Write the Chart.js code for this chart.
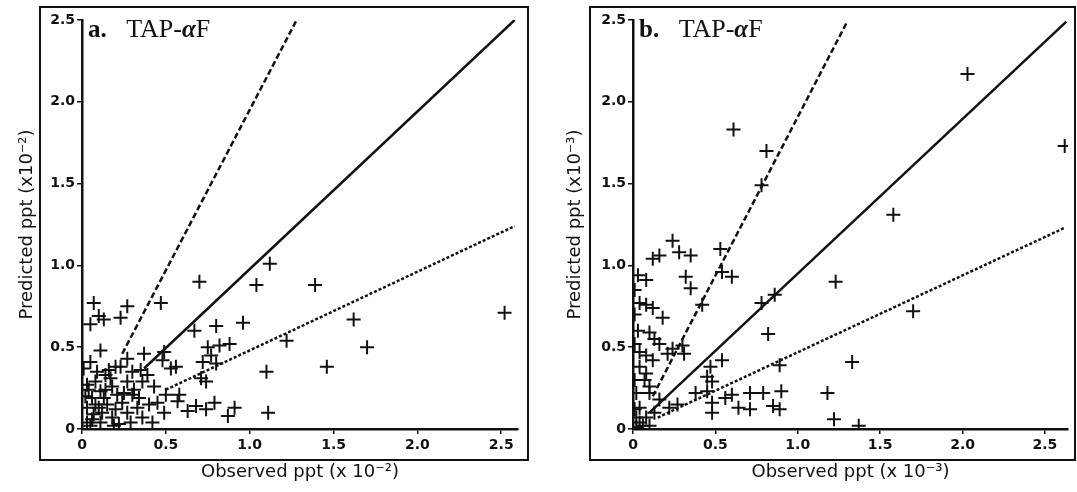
<!DOCTYPE html>
<html>
<head>
<meta charset="utf-8">
<script src="https://cdn.jsdelivr.net/npm/chart.js@4/dist/chart.umd.min.js"></script>
<style>
  body { margin: 0; background: #fff; }
  #wrap { position: relative; width: 1077px; height: 492px; }
  canvas { position: absolute; top: 0; }
  #chartA { left: 0; }
  #chartB { left: 540px; }
</style>
</head>
<body>
<div id="wrap">
  <canvas id="chartA" width="540" height="492"></canvas>
  <canvas id="chartB" width="537" height="492"></canvas>
</div>
<script>
// panel a: observed vs predicted (x 10^-2)
const aObserved = [2.52, 1.62, 1.70, 1.46, 1.39, 1.22, 1.12, 1.04, 1.10, 1.11, 0.70, 0.96, 0.80, 0.67, 0.75, 0.88, 0.82, 0.77, 0.72, 0.80,
  0.71, 0.74, 0.91, 0.87, 0.79, 0.74, 0.68, 0.63, 0.47, 0.56, 0.53, 0.48, 0.49, 0.58, 0.50, 0.49, 0.57, 0.43, 0.37, 0.27,
  0.23, 0.07, 0.05, 0.10, 0.13, 0.11, 0.05, 0.01, 0.23, 0.27, 0.30, 0.35, 0.14, 0.08, 0.17, 0.21, 0.11, 0.27, 0.36, 0.30,
  0.40, 0.45, 0.03, 0.07, 0.15, 0.18, 0.27, 0.36, 0.11, 0.03, 0.29, 0.42, 0.06, 0.13, 0.18, 0.03, 0.20, 0.24, 0.33, 0.02,
  0.08, 0.12, 0.05, 0.22, 0.16, 0.25, 0.34, 0.09, 0.39, 0.20, 0.04, 0.14, 0.06, 0.19, 0.31, 0.10];
const aPredicted = [0.71, 0.67, 0.50, 0.38, 0.88, 0.54, 1.01, 0.88, 0.35, 0.10, 0.90, 0.65, 0.63, 0.60, 0.50, 0.52, 0.51, 0.45, 0.41, 0.40,
  0.31, 0.29, 0.13, 0.08, 0.16, 0.12, 0.14, 0.11, 0.77, 0.38, 0.37, 0.42, 0.47, 0.21, 0.21, 0.10, 0.17, 0.26, 0.46, 0.75,
  0.68, 0.77, 0.64, 0.69, 0.67, 0.48, 0.41, 0.37, 0.38, 0.43, 0.35, 0.36, 0.33, 0.29, 0.31, 0.21, 0.23, 0.29, 0.29, 0.21,
  0.15, 0.16, 0.13, 0.09, 0.15, 0.07, 0.10, 0.07, 0.04, 0.04, 0.04, 0.04, 0.19, 0.19, 0.26, 0.27, 0.12, 0.16, 0.13, 0.20,
  0.15, 0.10, 0.02, 0.03, 0.36, 0.22, 0.19, 0.35, 0.33, 0.38, 0.24, 0.24, 0.06, 0.02, 0.24, 0.13];

// panel b: observed vs predicted (x 10^-3)
const bObserved = [2.03, 2.62, 1.58, 1.70, 1.23, 1.33, 1.18, 1.22, 1.37, 0.61, 0.81, 0.78, 0.53, 0.24, 0.28, 0.35, 0.16, 0.12, 0.54, 0.60,
  0.32, 0.35, 0.42, 0.78, 0.86, 0.82, 0.03, 0.08, 0.04, 0.08, 0.12, 0.18, 0.03, 0.10, 0.13, 0.16, 0.24, 0.30, 0.31, 0.21,
  0.04, 0.08, 0.12, 0.04, 0.08, 0.07, 0.10, 0.10, 0.47, 0.54, 0.45, 0.48, 0.38, 0.45, 0.48, 0.48, 0.56, 0.60, 0.64, 0.71,
  0.71, 0.79, 0.85, 0.89, 0.90, 0.89, 0.22, 0.27, 0.16, 0.13, 0.08, 0.04, 0.02, 0.06, 0.04, 0.02, 0.01, 0.01, 0.01, 0.01,
  0.01, 0.02, 0.10];
const bPredicted = [2.17, 1.73, 1.31, 0.72, 0.90, 0.41, 0.22, 0.06, 0.02, 1.83, 1.70, 1.49, 1.10, 1.15, 1.08, 1.06, 1.06, 1.04, 0.96, 0.93,
  0.93, 0.86, 0.76, 0.77, 0.82, 0.58, 0.94, 0.91, 0.77, 0.76, 0.74, 0.68, 0.60, 0.59, 0.55, 0.52, 0.49, 0.51, 0.46, 0.46,
  0.47, 0.45, 0.42, 0.38, 0.34, 0.30, 0.26, 0.22, 0.38, 0.42, 0.32, 0.29, 0.22, 0.23, 0.16, 0.10, 0.19, 0.21, 0.13, 0.22,
  0.12, 0.22, 0.14, 0.12, 0.23, 0.39, 0.13, 0.15, 0.18, 0.10, 0.07, 0.04, 0.07, 0.02, 0.13, 0.22, 0.85, 0.70, 0.52, 0.30,
  0.12, 0.01, 0.02];

// reference lines, [x0, x1] and [y0, y1]
const aSolidX = [0.37, 2.58], aSolidY = [0.37, 2.50];
const aDashX = [0.24, 1.28], aDashY = [0.46, 2.50];
const aDotX = [0.50, 2.58], aDotY = [0.24, 1.24];
const bSolidX = [0.10, 2.63], bSolidY = [0.10, 2.49];
const bDashX = [0.12, 1.30], bDashY = [0.20, 2.49];
const bDotX = [0.15, 2.62], bDotY = [0.07, 1.23];

const xTicks = [0, 0.5, 1.0, 1.5, 2.0, 2.5];
const yTicks = [0, 0.5, 1.0, 1.5, 2.0, 2.5];

const ink = "#111";
const tickFont = { family: "DejaVu Sans", size: 14, weight: "bold" };
const titleFont = { family: "DejaVu Sans", size: 18 };

function pairs(xs, ys) {
    return xs.map((x, i) => ({ x: x, y: ys[i] }));
}

function fmt(v) {
    return v === 0 ? "0" : v.toFixed(1);
}

// frame around the panel and the panel label
const framePlugin = {
    id: "frame",
    afterDraw(chart, args, opts) {
        const { ctx, chartArea } = chart;
        ctx.save();
        ctx.strokeStyle = ink;
        ctx.lineWidth = 2;
        ctx.strokeRect(chartArea.left - opts.left, chartArea.top - opts.top,
            chartArea.right - chartArea.left + opts.left + opts.right,
            chartArea.bottom - chartArea.top + opts.top + opts.bottom);
        ctx.fillStyle = ink;
        ctx.textBaseline = "alphabetic";
        let x = chartArea.left + 6;
        const y = chartArea.top + 17;
        const parts = [
            [opts.label, 'bold 25px "Liberation Serif"'],
            ["   TAP-", '26px "Liberation Serif"'],
            ["α", 'italic bold 25px "Liberation Serif"'],
            ["F", '26px "Liberation Serif"']
        ];
        parts.forEach(([t, f]) => {
            ctx.font = f;
            ctx.fillText(t, x, y);
            x += ctx.measureText(t).width;
        });
        ctx.restore();
    }
};

function makeChart(id, obs, pred, lines, cfg) {
    const lineSets = lines.map(l => ({
        type: "line",
        data: pairs(l.x, l.y),
        borderColor: ink,
        borderWidth: 2.5,
        borderDash: l.dash,
        pointRadius: 0,
        fill: false
    }));
    return new Chart(document.getElementById(id), {
        type: "scatter",
        data: {
            datasets: [{
                data: pairs(obs, pred),
                pointStyle: "cross",
                pointRadius: 7,
                borderColor: ink,
                backgroundColor: ink,
                borderWidth: 2
            }].concat(lineSets)
        },
        options: {
            responsive: false,
            animation: false,
            layout: { padding: { left: cfg.padLeft, top: 20, right: cfg.padRight, bottom: 9 } },
            plugins: {
                legend: { display: false },
                tooltip: { enabled: false },
                frame: cfg.frame
            },
            scales: {
                x: {
                    type: "linear",
                    min: 0,
                    max: cfg.xMax,
                    afterBuildTicks: s => { s.ticks = xTicks.map(v => ({ value: v })); },
                    afterFit: s => { s.height = 54; },
                    grid: { drawOnChartArea: false, drawTicks: true, tickLength: 5, color: ink, lineWidth: 1.5 },
                    border: { color: ink, width: 2.5 },
                    ticks: { color: ink, font: tickFont, padding: 3, maxRotation: 0, callback: fmt },
                    title: { display: true, text: cfg.xTitle, color: ink, font: titleFont, padding: 0 }
                },
                y: {
                    type: "linear",
                    min: 0,
                    max: 2.5,
                    afterBuildTicks: s => { s.ticks = yTicks.map(v => ({ value: v })); },
                    afterFit: s => { s.width = cfg.yWidth; },
                    grid: { drawOnChartArea: false, drawTicks: true, tickLength: 5, color: ink, lineWidth: 1.5 },
                    border: { color: ink, width: 2.5 },
                    ticks: { color: ink, font: tickFont, padding: 2, callback: fmt },
                    title: { display: true, text: cfg.yTitle, color: ink, font: titleFont, padding: 0 }
                }
            }
        },
        plugins: [framePlugin]
    });
}

makeChart("chartA", aObserved, aPredicted, [
    { x: aSolidX, y: aSolidY, dash: [] },
    { x: aDashX, y: aDashY, dash: [6, 3] },
    { x: aDotX, y: aDotY, dash: [3, 2] }
], {
    padLeft: 17, padRight: 22, yWidth: 65, xMax: 2.6,
    xTitle: "Observed ppt (x 10⁻²)", yTitle: "Predicted ppt (x10⁻²)",
    frame: { label: "a.", left: 42, top: 13, right: 10, bottom: 31 }
});

makeChart("chartB", bObserved, bPredicted, [
    { x: bSolidX, y: bSolidY, dash: [] },
    { x: bDashX, y: bDashY, dash: [6, 3] },
    { x: bDotX, y: bDotY, dash: [3, 2] }
], {
    padLeft: 25, padRight: 9, yWidth: 68, xMax: 2.64,
    xTitle: "Observed ppt (x 10⁻³)", yTitle: "Predicted ppt (x10⁻³)",
    frame: { label: "b.", left: 43, top: 13, right: 7, bottom: 31 }
});
</script>
</body>
</html>
